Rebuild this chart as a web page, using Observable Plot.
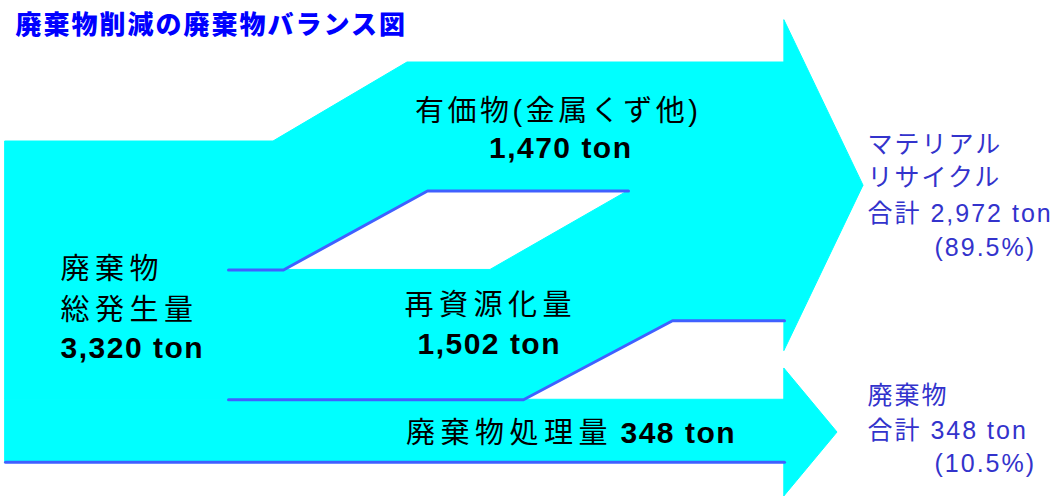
<!DOCTYPE html>
<html lang="ja">
<head>
<meta charset="utf-8">
<script src="https://cdn.jsdelivr.net/npm/d3@7"></script>
<script src="https://cdn.jsdelivr.net/npm/@observablehq/plot@0.6"></script>
<style>
  html, body { margin: 0; padding: 0; background: #fff; }
  #chart svg { display: block; }
</style>
</head>
<body>
<div id="chart"></div>
<script>
// ---- 数値（ton） ----
const title = "廃棄物削減の廃棄物バランス図";
const sourceLines = ["廃棄物", "総発生量"];
const sourceTons = 3320;
const flowNames = ["有価物(金属くず他)", "再資源化量", "廃棄物処理量"];
const flowTons = [1470, 1502, 348];
const outcomeLines = [["マテリアル", "リサイクル"], ["廃棄物"]];
const outcomeTons = [2972, 348];
const outcomeShares = [89.5, 10.5];

// ---- 図の配置 ----
const W = 1064, H = 496;
const geom = {
  x0: 5, x1: 784,          // 帯の左端・矢印の付け根
  top: 141,                // 左端での最上辺
  perTon: 3.35,            // 帯の太さ = perTon * √ton
  rise: 79,                // 上へ合流する帯の持ち上がり
  bends: [                 // 各帯の上辺・下辺が斜めに上がる区間
    {top: [273, 407], bottom: [283, 427]},
    {top: [490, 628], bottom: [523, 672]},
    null
  ],
  sepStart: 228,           // 区切り線の開始位置
  heads: [                 // 矢じり（帯からのはみ出し：上, 下）
    {bands: [0, 1], over: [42, 30], tip: 863},
    {bands: [2], over: [31, 34], tip: 837}
  ]
};
const thickness = d3.scaleSqrt().domain([0, 1]).range([0, geom.perTon]);

// 折れ線上の x における y
function at(poly, x) {
  for (let j = 1; j < poly.length; j++) {
    const [xa, ya] = poly[j - 1], [xb, yb] = poly[j];
    if (x <= xb) return xb === xa ? yb : ya + (yb - ya) * (x - xa) / (xb - xa);
  }
  return poly[poly.length - 1][1];
}
function clip(poly, xa, xb) {
  const xs = [xa, ...poly.map(p => p[0]).filter(x => x > xa && x < xb), xb];
  return xs.map(x => [x, at(poly, x)]);
}

// 帯（上から積み上げ）
let acc = geom.top;
const bands = flowTons.map((t, i) => {
  const y0 = acc, y1 = acc + thickness(t);
  acc = y1;
  const b = geom.bends[i];
  const shift = b ? geom.rise : 0;
  const edge = (y, xs) => xs
    ? [[geom.x0, y], [xs[0], y], [xs[1], y - shift], [geom.x1, y - shift]]
    : [[geom.x0, y], [geom.x1, y]];
  return {i, top: edge(y0, b && b.top), bottom: edge(y1, b && b.bottom)};
});

const bandRows = bands.flatMap(b => {
  const xs = Array.from(new Set([...b.top, ...b.bottom].map(p => p[0]))).sort((a, c) => a - c);
  return xs.map(x => ({band: b.i, x, y1: at(b.top, x), y2: at(b.bottom, x)}));
});

const headRows = geom.heads.flatMap((h, k) => {
  const first = bands[h.bands[0]], last = bands[h.bands[h.bands.length - 1]];
  const yt = first.top[first.top.length - 1][1] - h.over[0];
  const yb = last.bottom[last.bottom.length - 1][1] + h.over[1];
  const ym = (yt + yb) / 2;
  return [
    {head: k, x: geom.x1, y1: yt, y2: yb},
    {head: k, x: h.tip, y1: ym, y2: ym}
  ];
});

// 帯の下辺に引く区切り線
const sepRows = bands.flatMap(b => {
  const last = b.i === bands.length - 1;
  const next = geom.bends[b.i + 1];
  const xa = last ? geom.x0 : geom.sepStart;
  const xb = next ? next.top[1] : geom.x1;
  return clip(b.bottom, xa, xb).map(([x, y]) => ({sep: b.i, x, y}));
});

// ---- 文字 ----
const fmt = d3.format(",");
const ton = v => `${fmt(v)} ton`;
const share = v => `(${v.toFixed(1)}%)`;
const BLACK = "#000", BLUE = "#3333cc";
const labels = [
  {text: title, x: 15, y: 25, anchor: "start", size: 26, weight: 900, color: "#0000ff", sp: 2},
  {text: sourceLines[0], x: 60, y: 269, anchor: "start", size: 29, weight: "normal", color: BLACK, sp: 5.5},
  {text: sourceLines[1], x: 60, y: 310, anchor: "start", size: 29, weight: "normal", color: BLACK, sp: 5.5},
  {text: ton(sourceTons), x: 60, y: 348, anchor: "start", size: 30, weight: "bold", color: BLACK, sp: 1.5},
  {text: flowNames[0], x: 556, y: 111.5, anchor: "middle", size: 29, weight: "normal", color: BLACK, sp: 3.5},
  {text: ton(flowTons[0]), x: 559.5, y: 148, anchor: "middle", size: 30, weight: "bold", color: BLACK, sp: 1.5},
  {text: flowNames[1], x: 487.5, y: 305.5, anchor: "middle", size: 29, weight: "normal", color: BLACK, sp: 5.5},
  {text: ton(flowTons[1]), x: 488, y: 344, anchor: "middle", size: 30, weight: "bold", color: BLACK, sp: 1.5},
  {text: flowNames[2], x: 607, y: 433, anchor: "end", size: 29, weight: "normal", color: BLACK, sp: 5.5},
  {text: ton(flowTons[2]), x: 620, y: 432.5, anchor: "start", size: 30, weight: "bold", color: BLACK, sp: 1.5},
  {text: outcomeLines[0][0], x: 867, y: 144.5, anchor: "start", size: 25, weight: "normal", color: BLUE, sp: 2},
  {text: outcomeLines[0][1], x: 867, y: 177.5, anchor: "start", size: 25, weight: "normal", color: BLUE, sp: 2},
  {text: `合計 ${ton(outcomeTons[0])}`, x: 867, y: 213.5, anchor: "start", size: 25, weight: "normal", color: BLUE, sp: 2},
  {text: share(outcomeShares[0]), x: 934, y: 247, anchor: "start", size: 25, weight: "normal", color: BLUE, sp: 2},
  {text: outcomeLines[1][0], x: 867, y: 395.5, anchor: "start", size: 25, weight: "normal", color: BLUE, sp: 2},
  {text: `合計 ${ton(outcomeTons[1])}`, x: 867, y: 430, anchor: "start", size: 25, weight: "normal", color: BLUE, sp: 2},
  {text: share(outcomeShares[1]), x: 934, y: 463, anchor: "start", size: 25, weight: "normal", color: BLUE, sp: 2}
];
const FONT = "'Liberation Sans', 'Noto Sans CJK JP', sans-serif";

const textMarks = labels.map(l => Plot.text([l], {
  x: "x", y: "y", text: "text",
  textAnchor: l.anchor, lineAnchor: "middle",
  dx: l.anchor === "middle" ? l.sp / 2 : l.anchor === "end" ? l.sp : 0,
  fontSize: l.size, fontWeight: l.weight, fontFamily: FONT, fill: l.color
}));

const CYAN = "#00ffff", LINE = "#4060ff";
const svg = Plot.plot({
  width: W, height: H, margin: 0,
  x: {domain: [0, W], range: [0, W], axis: null},
  y: {domain: [0, H], range: [0, H], axis: null},
  marks: [
    Plot.area(bandRows, {x1: "x", y1: "y1", y2: "y2", z: "band", fill: CYAN, stroke: CYAN, strokeWidth: 1, curve: "linear"}),
    Plot.area(headRows, {x1: "x", y1: "y1", y2: "y2", z: "head", fill: CYAN, stroke: CYAN, strokeWidth: 1, curve: "linear"}),
    Plot.line(sepRows, {x: "x", y: "y", z: "sep", stroke: LINE, strokeWidth: 3, curve: "linear"}),
    ...textMarks
  ]
});

// 文字間隔（Plot.text に該当オプションがないため要素へ直接設定）
svg.querySelectorAll('g[aria-label="text"]').forEach((g, i) => {
  if (labels[i]) g.style.letterSpacing = labels[i].sp + "px";
});

document.getElementById("chart").appendChild(svg);
</script>
</body>
</html>
